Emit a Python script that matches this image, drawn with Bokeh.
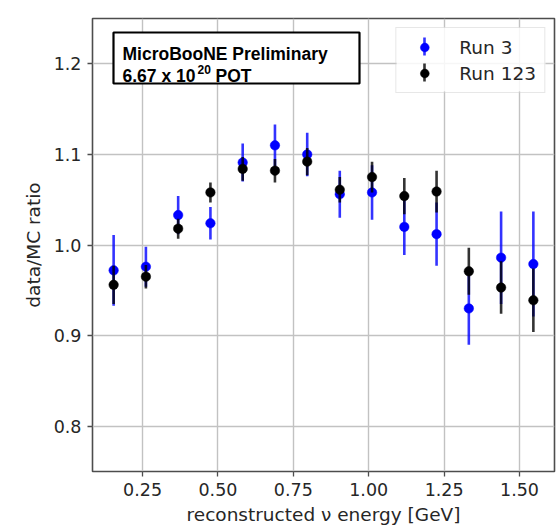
from bokeh.plotting import figure
from bokeh.models import (Range1d, FixedTicker, BoxAnnotation, Label, Legend,
                          LegendItem, ColumnDataSource, Whisker)
from bokeh.embed import file_html
from bokeh.resources import INLINE

# ---- data ----
energy = [0.154, 0.261, 0.368, 0.475, 0.582, 0.689, 0.796,
          0.904, 1.011, 1.118, 1.225, 1.332, 1.439, 1.546]
run3 = [0.972, 0.976, 1.033, 1.024, 1.091, 1.110, 1.100,
        1.056, 1.058, 1.020, 1.012, 0.930, 0.986, 0.979]
run3_err = [0.039, 0.022, 0.021, 0.018, 0.021, 0.023, 0.024,
            0.026, 0.030, 0.031, 0.035, 0.040, 0.051, 0.058]
run123 = [0.956, 0.965, 1.018, 1.058, 1.084, 1.082, 1.092,
          1.061, 1.075, 1.054, 1.059, 0.971, 0.953, 0.939]
run123_err = [0.021, 0.013, 0.011, 0.011, 0.013, 0.013, 0.015,
              0.014, 0.017, 0.020, 0.023, 0.026, 0.029, 0.035]

x_ticks = [0.25, 0.50, 0.75, 1.00, 1.25, 1.50]
x_tick_labels = ["0.25", "0.50", "0.75", "1.00", "1.25", "1.50"]
y_ticks = [0.8, 0.9, 1.0, 1.1, 1.2]
y_tick_labels = ["0.8", "0.9", "1.0", "1.1", "1.2"]

series_names = ["Run 3", "Run 123"]
series_colors = ["#0000ff", "#000000"]

FONT = "DejaVu Sans"
TXT = "#262626"

# layout constants (pixels)
LEFT, TOP, FW, FH = 92, 18, 462, 453
XR = (0.0839, 1.6161)
YR = (0.75, 1.25)


def dx(px):  # screen x (page px) -> data x
    return XR[0] + (px - LEFT) / FW * (XR[1] - XR[0])


def dy(py):  # screen y (page px) -> data y
    return YR[1] - (py - TOP) / FH * (YR[1] - YR[0])


p = figure(frame_width=FW, frame_height=FH,
           x_range=Range1d(*XR), y_range=Range1d(*YR),
           output_backend="svg", toolbar_location=None,
           min_border_left=LEFT, min_border_right=2, min_border_top=TOP,
           min_border_bottom=52, background_fill_color="white",
           border_fill_color="white")

p.outline_line_color = "#4d4d4d"
p.outline_line_width = 1.6

for ax, ticks, labels in ((p.xaxis, x_ticks, x_tick_labels),
                          (p.yaxis, y_ticks, y_tick_labels)):
    ax.ticker = FixedTicker(ticks=ticks)
    ax.major_label_overrides = {t: l for t, l in zip(ticks, labels)}
    ax.axis_line_color = None
    ax.major_tick_line_color = "#4d4d4d"
    ax.major_tick_line_width = 1.3
    ax.major_tick_out = 5
    ax.major_tick_in = 0
    ax.minor_tick_line_color = None
    ax.major_label_text_font = FONT
    ax.major_label_text_font_size = "17.5px"
    ax.major_label_text_color = TXT
    ax.major_label_standoff = 6
    ax.axis_label_text_font = FONT
    ax.axis_label_text_font_size = "18.5px"
    ax.axis_label_text_font_style = "normal"
    ax.axis_label_text_color = TXT

p.xaxis.axis_label = "reconstructed ν energy [GeV]"
p.yaxis.axis_label = "data/MC ratio"
p.xaxis.axis_label_standoff = 5
p.yaxis.axis_label_standoff = 7

p.grid.grid_line_color = "#c2c2c2"
p.grid.grid_line_width = 1.4

items = []
for name, vals, errs, col in ((series_names[0], run3, run3_err, series_colors[0]),
                              (series_names[1], run123, run123_err, series_colors[1])):
    src = ColumnDataSource(dict(x=energy, y=vals,
                                lo=[v - e for v, e in zip(vals, errs)],
                                hi=[v + e for v, e in zip(vals, errs)]))
    p.segment(x0="x", y0="lo", x1="x", y1="hi", source=src,
              line_color=col, line_width=2.6, line_alpha=0.8)
    pts = p.scatter(x="x", y="y", source=src, marker="circle", size=9.5,
                    fill_color=col, line_color=col, line_width=0.5)
    items.append(LegendItem(label=name, renderers=[pts]))

# translucent legend background, drawn below the legend icon strokes
p.add_layout(BoxAnnotation(left=dx(396), right=dx(545), top=dy(27),
                           bottom=dy(91), fill_color="white",
                           fill_alpha=0.85, line_color=None))

# vertical error-bar strokes of the legend icons
icon_x = dx(424)
for cy, col in ((46, series_colors[0]), (72, series_colors[1])):
    p.add_layout(Whisker(base=icon_x, lower=dy(cy + 9), upper=dy(cy - 9),
                         dimension="height", line_color=col, line_width=2.6,
                         line_alpha=0.8, upper_head=None, lower_head=None,
                         level="overlay"))

legend = Legend(items=items, location="top_right", margin=9,
                padding=8, spacing=4, label_height=22, glyph_height=22,
                glyph_width=40, label_standoff=15,
                label_text_font=FONT, label_text_font_size="18.5px",
                label_text_color=TXT,
                border_line_color="#d0d0d0", border_line_width=1.2,
                background_fill_alpha=0.0)
p.add_layout(legend)

box = BoxAnnotation(left=dx(113), right=dx(359), bottom=dy(83), top=dy(32),
                    fill_color="white", fill_alpha=1.0,
                    line_color="black", line_width=2.2, line_alpha=1.0)
p.add_layout(box)

BFONT = "Liberation Sans"
p.add_layout(Label(x=dx(122), y=dy(53), text="MicroBooNE Preliminary",
                   text_font=BFONT, text_font_style="bold",
                   text_font_size="17.5px", text_color="black",
                   text_baseline="alphabetic"))
p.add_layout(Label(x=dx(122), y=dy(75), text="6.67 x 10",
                   text_font=BFONT, text_font_style="bold",
                   text_font_size="17.5px", text_color="black",
                   text_baseline="alphabetic"))
p.add_layout(Label(x=dx(197), y=dy(69.3), text="20",
                   text_font=BFONT, text_font_style="bold",
                   text_font_size="12px", text_color="black",
                   text_baseline="alphabetic"))
p.add_layout(Label(x=dx(215), y=dy(75), text="POT",
                   text_font=BFONT, text_font_style="bold",
                   text_font_size="17.5px", text_color="black",
                   text_baseline="alphabetic"))

open("out.html", "w").write(file_html(p, INLINE))
